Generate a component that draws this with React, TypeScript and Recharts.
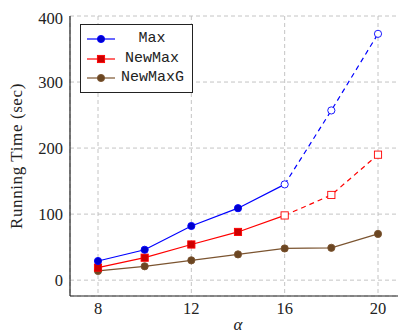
import { CartesianGrid, Line, LineChart, XAxis, YAxis } from "recharts";

const alpha = [8, 10, 12, 14, 16, 18, 20];
const maxTime = [29, 46, 82, 109, 145, 257, 373];
const newMaxTime = [19, 34, 54, 73, 98, 129, 190];
const newMaxGTime = [14, 21, 30, 39, 48, 49, 70];
// runs measured up to this alpha, beyond it the values are estimated (dashed)
const measuredUpTo = 16;

const xTicks = [8, 12, 16, 20];
const yTicks = [0, 100, 200, 300, 400];

const BLUE = "#0000ff";
const RED = "#ff0000";
const BROWN = "#7b5430";

const rows = alpha.map((a, i) => ({
  alpha: a,
  maxSolid: a <= measuredUpTo ? maxTime[i] : null,
  maxDash: a >= measuredUpTo ? maxTime[i] : null,
  newMaxSolid: a <= measuredUpTo ? newMaxTime[i] : null,
  newMaxDash: a >= measuredUpTo ? newMaxTime[i] : null,
  newMaxG: newMaxGTime[i],
}));

type Shape = "circle" | "square";

function makeDot(shape: Shape, stroke: string, fill: string, openAt?: number) {
  return (props: any) => {
    const { cx, cy, payload, index } = props;
    const k = `d-${index}`;
    if (cx == null || cy == null || payload == null) return <g key={k} />;
    if (openAt != null && payload.alpha === openAt) return <g key={k} />;
    if (shape === "circle")
      return <circle key={k} cx={cx} cy={cy} r={3.6} fill={fill} stroke={stroke} strokeWidth={0.9} />;
    return (
      <rect key={k} x={cx - 3.6} y={cy - 3.6} width={7.2} height={7.2} fill={fill} stroke={stroke} strokeWidth={0.9} />
    );
  };
}

const serif = "'Liberation Serif', 'Times New Roman', serif";
const mono = "'Liberation Mono', 'DejaVu Sans Mono', monospace";

const legendItems = [
  { label: "Max", color: BLUE, fill: "#0000cc", shape: "circle" as Shape },
  { label: "NewMax", color: RED, fill: "#cc0000", shape: "square" as Shape },
  { label: "NewMaxG", color: BROWN, fill: "#6b4622", shape: "circle" as Shape },
];

export default function App() {
  return (
    <div style={{ position: "relative", width: 398, height: 325, fontFamily: serif }}>
      <LineChart width={398} height={325} data={rows} margin={{ top: 8, right: 0, bottom: 0, left: 0 }}>
        <CartesianGrid stroke="#bdbdbd" strokeDasharray="4 3" strokeWidth={0.9} />
        <XAxis
          dataKey="alpha"
          type="number"
          domain={[6.8, 21.2]}
          ticks={xTicks}
          height={37}
          tickLine={false}
          tickSize={0}
          tickMargin={6}
          axisLine={{ stroke: "#222", strokeWidth: 1.2 }}
          tick={{ fill: "#222", fontSize: 16.5, fontFamily: serif }}
          label={{
            value: "α",
            position: "insideBottom",
            offset: 3,
            style: { fill: "#222", fontSize: 17, fontFamily: serif, fontStyle: "italic" },
          }}
        />
        <XAxis xAxisId="top" orientation="top" dataKey="alpha" type="number" domain={[6.8, 21.2]} height={0} tick={false} tickLine={false} axisLine={{ stroke: "#222", strokeWidth: 1.2 }} />
        <YAxis
          domain={[-24, 400]}
          ticks={yTicks}
          width={62}
          tickLine={false}
          tickSize={0}
          tickMargin={7}
          axisLine={{ stroke: "#222", strokeWidth: 1.2 }}
          tick={{ fill: "#222", fontSize: 16.5, fontFamily: serif }}
          label={{
            value: "Running Time (sec)",
            angle: -90,
            position: "insideLeft",
            offset: 8,
            style: { fill: "#222", fontSize: 17, letterSpacing: 0.6, fontFamily: serif, textAnchor: "middle" },
          }}
        />
        <YAxis yAxisId="right" orientation="right" domain={[-24, 400]} width={0} tick={false} tickLine={false} axisLine={{ stroke: "#222", strokeWidth: 1.2 }} />

        <Line dataKey="newMaxG" stroke={BROWN} strokeWidth={1.2} dot={makeDot("circle", BROWN, "#6b4622")} isAnimationActive={false} />
        <Line dataKey="newMaxSolid" stroke={RED} strokeWidth={1.2} dot={makeDot("square", RED, "#cc0000", measuredUpTo)} isAnimationActive={false} />
        <Line dataKey="newMaxDash" stroke={RED} strokeWidth={1.2} strokeDasharray="5 4" dot={makeDot("square", RED, "#ffffff")} isAnimationActive={false} />
        <Line dataKey="maxSolid" stroke={BLUE} strokeWidth={1.2} dot={makeDot("circle", BLUE, "#0000cc", measuredUpTo)} isAnimationActive={false} />
        <Line dataKey="maxDash" stroke={BLUE} strokeWidth={1.2} strokeDasharray="5 4" dot={makeDot("circle", BLUE, "#ffffff")} isAnimationActive={false} />
      </LineChart>

      <div
        style={{
          position: "absolute",
          left: 72,
          top: 16,
          width: 111,
          height: 67,
          border: "1.2px solid #222",
          background: "#fff",
        }}
      >
        {legendItems.map((it, i) => (
          <div key={it.label} style={{ position: "absolute", left: 0, top: 4 + i * 19.5, width: 111, height: 20 }}>
            <svg width={30} height={20} style={{ position: "absolute", left: 6, top: 0 }}>
              <line x1={0} y1={10} x2={28} y2={10} stroke={it.color} strokeWidth={1.2} />
              {it.shape === "circle" ? (
                <circle cx={14} cy={10} r={3.6} fill={it.fill} stroke={it.color} strokeWidth={0.9} />
              ) : (
                <rect x={10.4} y={6.4} width={7.2} height={7.2} fill={it.fill} stroke={it.color} strokeWidth={0.9} />
              )}
            </svg>
            <div
              style={{
                position: "absolute",
                left: 40,
                width: 62,
                top: 0,
                lineHeight: "20px",
                textAlign: "center",
                fontFamily: mono,
                fontSize: 15,
                color: "#222",
              }}
            >
              {it.label}
            </div>
          </div>
        ))}
      </div>
    </div>
  );
}
